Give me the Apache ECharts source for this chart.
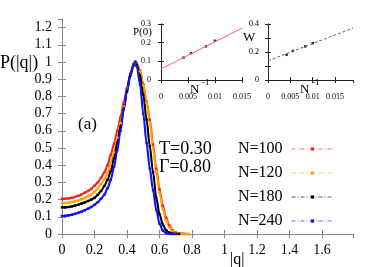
<!DOCTYPE html>
<html><head><meta charset="utf-8">
<script src="https://cdn.jsdelivr.net/npm/echarts@6/dist/echarts.min.js"></script>
<style>html,body{margin:0;padding:0;background:#fff}#c{width:382px;height:267px}</style>
</head><body><div id="c"></div>
<script>
// ---- data ----
const qValues = [0,0.02,0.04,0.06,0.08,0.10,0.12,0.14,0.16,0.18,0.20,0.22,0.24,0.26,0.28,0.30,0.32,0.34,0.36,0.38,0.40,0.42,0.44,0.45,0.46,0.48,0.50,0.52,0.54,0.56,0.58,0.60,0.62,0.64,0.66,0.68,0.70,0.72,0.74,0.76,0.78];
const seriesNames = ['N=100','N=120','N=180','N=240'];
const pN100 = [0.205,0.205,0.207,0.21,0.215,0.222,0.23,0.24,0.25,0.262,0.28,0.30,0.326,0.358,0.40,0.46,0.525,0.60,0.68,0.765,0.85,0.93,0.985,1.0,0.99,0.95,0.87,0.77,0.665,0.52,0.38,0.26,0.165,0.095,0.05,0.022,0.008,0.003,0.001,0,0];
const pN120 = [0.18,0.18,0.182,0.185,0.19,0.195,0.202,0.21,0.22,0.23,0.245,0.265,0.29,0.315,0.355,0.41,0.475,0.56,0.645,0.74,0.835,0.92,0.98,1.0,0.99,0.945,0.865,0.765,0.65,0.5,0.36,0.24,0.145,0.08,0.04,0.017,0.006,0.002,0.001,0,0];
const pN180 = [0.155,0.155,0.157,0.16,0.165,0.17,0.177,0.184,0.192,0.2,0.21,0.228,0.25,0.278,0.315,0.365,0.44,0.53,0.625,0.73,0.83,0.92,0.98,1.0,0.985,0.92,0.81,0.665,0.51,0.36,0.21,0.115,0.055,0.022,0.008,0.002,0.001,0];
const pN240 = [0.105,0.106,0.108,0.112,0.117,0.123,0.13,0.138,0.147,0.157,0.17,0.185,0.205,0.228,0.265,0.315,0.39,0.485,0.6,0.725,0.84,0.93,0.985,1.0,0.975,0.87,0.7,0.53,0.38,0.255,0.14,0.06,0.02,0.005,0.001,0,0];
const seriesColors = ['#ff2020','#ffa500','#000000','#1010ff'];

const invN = [0.00417,0.00556,0.00833,0.01];
const p0Values = [0.12,0.144,0.18,0.21];
const wValues = [0.18,0.208,0.24,0.263];
const p0FitX = [0,0.015];
const p0FitY = [0.059,0.278];
const wFitX = [0,0.019];
const wFitY = [0.137,0.371];

// ---- chart ----
const FONT = 'Liberation Serif';
const zip = (xs, ys) => ys.map((y, i) => [xs[i], y]);
const mainCurves = [pN100, pN120, pN180, pN240];

const mainAxisLine = {show:true, lineStyle:{color:'#888', width:1}};
const insetAxisLine = {show:true, lineStyle:{color:'#222', width:1}};
function axis(o){ return Object.assign({type:'value', splitLine:{show:false}}, o); }

const xAxes = [
  axis({gridIndex:0, position:'bottom', min:0, max:1.79, interval:0.2, axisLine:mainAxisLine,
    axisTick:{inside:true, length:4, lineStyle:{color:'#888'}},
    axisLabel:{showMaxLabel:false, margin:9, fontFamily:FONT, fontSize:14, color:'#000'}}),
  axis({gridIndex:0, position:'top', min:0, max:1.79, interval:0.2, axisLine:mainAxisLine,
    axisTick:{inside:true, length:4, lineStyle:{color:'#888'}}, axisLabel:{show:false}}),
  axis({gridIndex:1, position:'bottom', min:0, max:0.015, interval:0.005, axisLine:insetAxisLine,
    axisTick:{inside:true, length:3, lineStyle:{color:'#222'}},
    axisLabel:{margin:13, fontFamily:FONT, fontSize:8, color:'#000'}}),
  axis({gridIndex:1, position:'top', min:0, max:0.015, interval:0.005, axisLine:insetAxisLine,
    axisTick:{inside:true, length:3, lineStyle:{color:'#222'}}, axisLabel:{show:false}}),
  axis({gridIndex:2, position:'bottom', min:0, max:0.019, interval:0.005, axisLine:insetAxisLine,
    axisTick:{inside:true, length:3, lineStyle:{color:'#222'}},
    axisLabel:{showMaxLabel:false, margin:13, fontFamily:FONT, fontSize:8, color:'#000'}}),
  axis({gridIndex:2, position:'top', min:0, max:0.019, interval:0.005, axisLine:insetAxisLine,
    axisTick:{inside:true, length:3, lineStyle:{color:'#222'}}, axisLabel:{show:false}})
];
const yAxes = [
  axis({gridIndex:0, position:'left', min:0, max:1.25, interval:0.1, axisLine:mainAxisLine,
    axisTick:{inside:true, length:4, lineStyle:{color:'#888'}},
    axisLabel:{showMaxLabel:false, margin:10, fontFamily:FONT, fontSize:14, color:'#000'}}),
  axis({gridIndex:0, position:'right', min:0, max:1.25, interval:0.1, axisLine:mainAxisLine,
    axisTick:{inside:true, length:4, lineStyle:{color:'#888'}}, axisLabel:{show:false}}),
  axis({gridIndex:1, position:'left', min:0, max:0.3, interval:0.1, axisLine:insetAxisLine,
    axisTick:{inside:true, length:3, lineStyle:{color:'#222'}},
    axisLabel:{margin:10, fontFamily:FONT, fontSize:8, color:'#000'}}),
  axis({gridIndex:1, position:'right', min:0, max:0.3, interval:0.1, axisLine:insetAxisLine,
    axisTick:{inside:true, length:3, lineStyle:{color:'#222'}}, axisLabel:{show:false}}),
  axis({gridIndex:2, position:'left', min:0, max:0.4, interval:0.1, axisLine:insetAxisLine,
    axisTick:{inside:true, length:3, lineStyle:{color:'#222'}},
    axisLabel:{margin:9, fontFamily:FONT, fontSize:8, color:'#000',
      formatter: v => (Math.round(v*10) % 2 === 0) ? String(Math.round(v*10)/10) : ''}}),
  axis({gridIndex:2, position:'right', min:0, max:0.4, interval:0.1, axisLine:insetAxisLine,
    axisTick:{inside:true, length:3, lineStyle:{color:'#222'}}, axisLabel:{show:false}})
];

const series = mainCurves.map((vals, i) => ({
  name: seriesNames[i], type:'line', xAxisIndex:0, yAxisIndex:0,
  data: zip(qValues, vals),
  smooth: 0.3, smoothMonotone:'x',
  symbol:'rect', symbolSize:2.5, showAllSymbol:true,
  lineStyle:{color:seriesColors[i], width:2.1},
  itemStyle:{color:seriesColors[i]}
}));
series.push(
  {type:'line', xAxisIndex:2, yAxisIndex:2, data: zip(p0FitX, p0FitY), symbol:'none',
   lineStyle:{color:'#ff6060', width:1}, silent:true},
  {type:'scatter', xAxisIndex:2, yAxisIndex:2, data: zip(invN, p0Values), symbol:'rect', symbolSize:2.5,
   itemStyle:{color:'#000'}},
  {type:'line', xAxisIndex:4, yAxisIndex:4, data: zip(wFitX, wFitY), symbol:'none',
   lineStyle:{color:'#666', width:1, type:[3,2]}, silent:true},
  {type:'scatter', xAxisIndex:4, yAxisIndex:4, data: zip(invN, wValues), symbol:'rect', symbolSize:2.5,
   itemStyle:{color:'#000'}}
);

function txt(x, y, text, size, align){
  return {type:'text', x:x, y:y, z:100, style:{text:text, fontFamily:FONT, fontSize:size, fill:'#000',
    textAlign: align || 'left', textVerticalAlign:'middle'}};
}

const option = {
  animation:false,
  backgroundColor:'#fff',
  grid:[
    {left:62, top:19, right:29, bottom:33, containLabel:false, outerBoundsMode:'none'},
    {left:161, top:24, width:81, height:56, containLabel:false, outerBoundsMode:'none'},
    {left:268, top:24, width:85, height:56, containLabel:false, outerBoundsMode:'none'}
  ],
  xAxis: xAxes,
  yAxis: yAxes,
  legend:{
    orient:'vertical', right:48, top:141, padding:0, align:'right',
    itemWidth:42, itemHeight:4, itemGap:8,
    textStyle:{fontFamily:FONT, fontSize:16, lineHeight:16, color:'#000', padding:[0,4,0,0]},
    lineStyle:{type:[4,2,1,2], width:1, opacity:0.65},
    data: seriesNames
  },
  graphic: [
    txt(0, 63, 'P(|q|)', 18),
    txt(78, 125, '(a)', 17),
    txt(159, 149, 'T=0.30', 18),
    txt(159, 167, 'Γ=0.80', 18),
    txt(230, 260, '|q|', 16),
    txt(133, 32, 'P(0)', 11),
    txt(243, 38, 'W', 13),
    txt(190, 90, 'N', 13),
    txt(202, 83, '-1', 9),
    txt(300, 90, 'N', 13),
    txt(312, 83, '-1', 9)
  ],
  series: series
};
const chart = echarts.init(document.getElementById('c'), null, {renderer:'canvas'});
chart.setOption(option);
</script>
</body></html>
